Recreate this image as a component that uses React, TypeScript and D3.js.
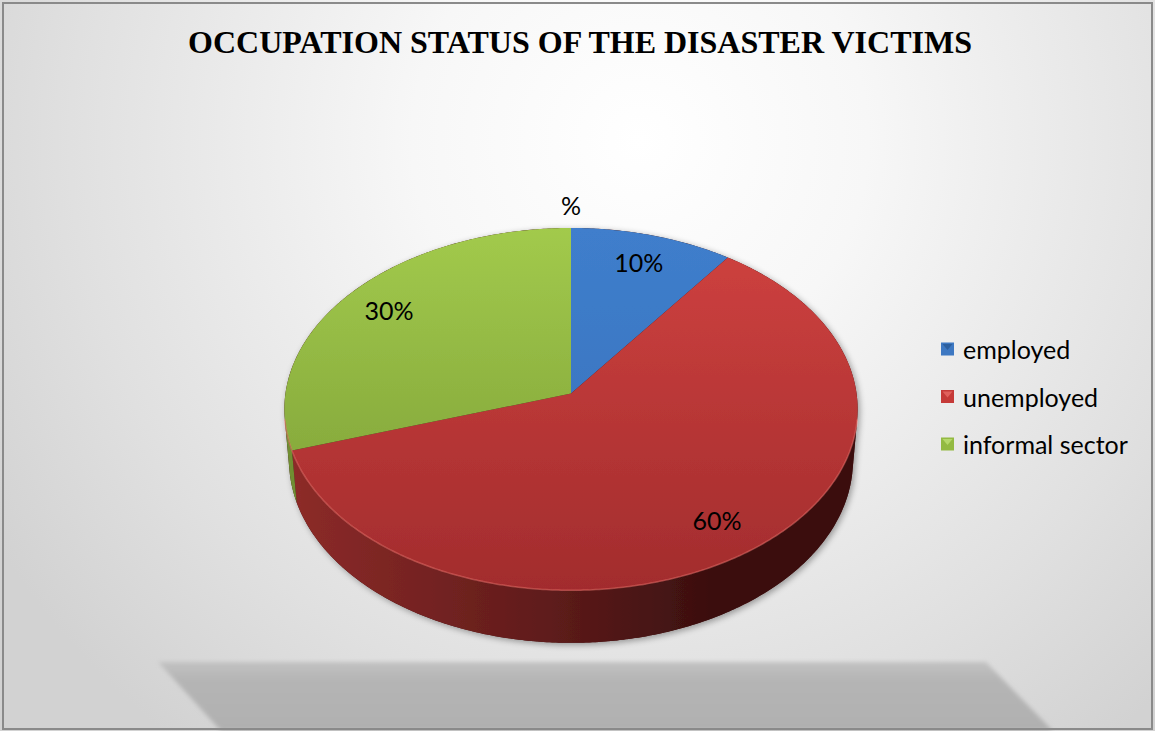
import React from "react";
import * as d3 from "d3";

const W = 1155;
const H = 731;

const title = "OCCUPATION STATUS OF THE DISASTER VICTIMS";
const seriesName = "%";
const categories = ["employed", "unemployed", "informal sector"];
const values = [10, 60, 30];
const labels = ["10%", "60%", "30%"];

// colours: [top face light, top face dark, wall light, wall dark]
const topLight = ["#3f7ecc", "#d04240", "#a2ca4c"];
const topDark = ["#3770b9", "#a22c2d", "#789934"];
const wallLight = ["#2c5a8f", "#8e2b29", "#718f31"];
const wallDark = ["#162d48", "#3a0f0f", "#3e501b"];
const legendBase = ["#3d78c2", "#c53a38", "#93ba42"];
const legendTri = ["#2c5f9e", "#e0605c", "#b5d86a"];

// perspective camera for the tilted disc
const CX = 571;
const CY = 393.5;
const F = 2570;
const DIST = 9;
const SIN_A = 0.6296;
const COS_A = Math.sqrt(1 - SIN_A * SIN_A);
const DEPTH = 0.235;

function project(X: number, Y: number, Z: number): [number, number] {
  const xc = X;
  const yc = Y * COS_A + Z * SIN_A;
  const zc = DIST + Z * COS_A - Y * SIN_A;
  return [CX + (F * xc) / zc, CY - (F * yc) / zc];
}
function rim(theta: number, r = 1, Y = 0): [number, number] {
  return project(r * Math.sin(theta), Y, r * Math.cos(theta));
}
function arcPts(a0: number, a1: number, Y: number): [number, number][] {
  const n = Math.max(2, Math.ceil(Math.abs(a1 - a0) / 0.01));
  const pts: [number, number][] = [];
  for (let i = 0; i <= n; i++) pts.push(rim(a0 + ((a1 - a0) * i) / n, 1, Y));
  return pts;
}
const toPath = (pts: [number, number][]) =>
  pts.map((p, i) => (i ? "L" : "M") + p[0].toFixed(2) + "," + p[1].toFixed(2)).join("");

export default function App() {
  const arcs = d3.pie<number>().sort(null).value((d) => d)(values);
  const visMin = Math.acos(-1 / (DIST * COS_A));
  const visMax = 2 * Math.PI - visMin;

  const leftX = rim(-visMin + 2 * Math.PI)[0];
  const rightX = rim(visMin)[0];
  const topY = rim(0)[1];
  const botY = rim(Math.PI)[1];

  const center = project(0, 0, 0);

  const walls = arcs
    .map((a, i) => {
      const s = Math.max(a.startAngle, visMin);
      const e = Math.min(a.endAngle, visMax);
      if (e <= s) return null;
      const topPts = arcPts(s, e, 0);
      const botPts = arcPts(e, s, -DEPTH);
      return { i, d: toPath([...topPts, ...botPts]) + "Z" };
    })
    .filter(Boolean) as { i: number; d: string }[];

  const tops = arcs.map((a, i) => ({
    i,
    d: toPath([center, ...arcPts(a.startAngle, a.endAngle, 0)]) + "Z",
  }));

  const silhouette =
    toPath([...arcPts(visMax - 2 * Math.PI, visMin, 0), ...arcPts(visMin, visMax, -DEPTH)]) + "Z";

  const frontRim = toPath(arcPts(visMin, visMax, 0));

  const labelR = 0.82;
  const labelPos = arcs.map((a) => rim((a.startAngle + a.endAngle) / 2, labelR));
  const seriesPos = rim(0, 1.15);

  const legendY = d3.scalePoint<string>().domain(categories).range([349, 444]);

  return (
    <svg
      width={W}
      height={H}
      style={{ position: "absolute", left: 0, top: 0 }}
      fontFamily="Lato, 'Open Sans', sans-serif"
    >
      <defs>
        <radialGradient id="bg" gradientUnits="userSpaceOnUse" cx={640} cy={140} r={760}>
          <stop offset="0" stopColor="#ffffff" />
          <stop offset="0.3" stopColor="#f7f7f7" />
          <stop offset="0.75" stopColor="#e0e0e0" />
          <stop offset="1" stopColor="#d2d2d2" />
        </radialGradient>
        <linearGradient id="floor" x1="0" y1="0" x2="0" y2="1">
          <stop offset="0" stopColor="#c2c2c2" />
          <stop offset="0.25" stopColor="#b5b5b5" />
          <stop offset="1" stopColor="#b0b0b0" />
        </linearGradient>
        <filter id="blur2" x="-5%" y="-20%" width="110%" height="140%">
          <feGaussianBlur stdDeviation="2" />
        </filter>
        <filter id="pieShadow" x="-10%" y="-10%" width="120%" height="130%">
          <feGaussianBlur in="SourceAlpha" stdDeviation="3" />
          <feOffset dx="2" dy="2" result="b" />
          <feComponentTransfer>
            <feFuncA type="linear" slope="0.35" />
          </feComponentTransfer>
          <feMerge>
            <feMergeNode />
            <feMergeNode in="SourceGraphic" />
          </feMerge>
        </filter>
        {categories.map((c, i) => (
          <linearGradient
            key={"t" + i}
            id={"top" + i}
            gradientUnits="userSpaceOnUse"
            x1={0}
            y1={topY}
            x2={0}
            y2={botY}
          >
            <stop offset="0" stopColor={topLight[i]} />
            <stop offset="1" stopColor={topDark[i]} />
          </linearGradient>
        ))}
        {categories.map((c, i) => (
          <linearGradient
            key={"w" + i}
            id={"wall" + i}
            gradientUnits="userSpaceOnUse"
            x1={leftX}
            y1={0}
            x2={rightX}
            y2={0}
          >
            <stop offset="0" stopColor={wallLight[i]} />
            <stop offset="0.45" stopColor={d3.interpolateRgb(wallLight[i], wallDark[i])(0.55)} />
            <stop offset="0.75" stopColor={wallDark[i]} />
            <stop offset="1" stopColor={wallDark[i]} />
          </linearGradient>
        ))}
      </defs>

      <rect x={0} y={0} width={W} height={H} fill="url(#bg)" />

      {/* floor shadow */}
      <path
        d="M158,662 L986,662 L1053,731 L221,731 Z"
        fill="url(#floor)"
        filter="url(#blur2)"
      />

      {/* title */}
      <text
        x={580}
        y={53}
        textAnchor="middle"
        fontFamily="'Liberation Serif', 'Times New Roman', serif"
        fontWeight="bold"
        fontSize={32}
        fill="#000"
      >
        {title}
      </text>

      {/* pie */}
      <g filter="url(#pieShadow)">
        <path d={silhouette} fill="#3a0f0f" />
        {walls.map((w) => (
          <path key={"wall" + w.i} d={w.d} fill={`url(#wall${w.i})`} />
        ))}
        {tops.map((t) => (
          <path key={"top" + t.i} d={t.d} fill={`url(#top${t.i})`} />
        ))}
        <path d={frontRim} fill="none" stroke="#e8706a" strokeOpacity={0.55} strokeWidth={1.5} />
      </g>

      {/* data labels */}
      <text
        x={seriesPos[0]}
        y={seriesPos[1]}
        textAnchor="middle"
        dominantBaseline="central"
        fontSize={25}
        fill="#000"
      >
        {seriesName}
      </text>
      {labels.map((l, i) => (
        <text
          key={l}
          x={labelPos[i][0]}
          y={labelPos[i][1]}
          textAnchor="middle"
          dominantBaseline="central"
          fontSize={25}
          fill="#000"
        >
          {l}
        </text>
      ))}

      {/* legend */}
      {categories.map((c, i) => {
        const y = legendY(c)!;
        const x0 = 941;
        const s = 13;
        return (
          <g key={c}>
            <rect x={x0} y={y - s / 2} width={s} height={s} fill={legendBase[i]} />
            <path
              d={`M${x0 + 1.5},${y - s / 2 + 1.5} L${x0 + s - 1.5},${y - s / 2 + 1.5} L${x0 + s / 2},${y + 1} Z`}
              fill={legendTri[i]}
            />
            <text x={963} y={y} dominantBaseline="central" fontSize={25} fill="#000">
              {c}
            </text>
          </g>
        );
      })}

      {/* outer border */}
      <rect x={3} y={3} width={W - 6} height={H - 5} fill="none" stroke="#8a8a8a" strokeWidth={2} />
    </svg>
  );
}
